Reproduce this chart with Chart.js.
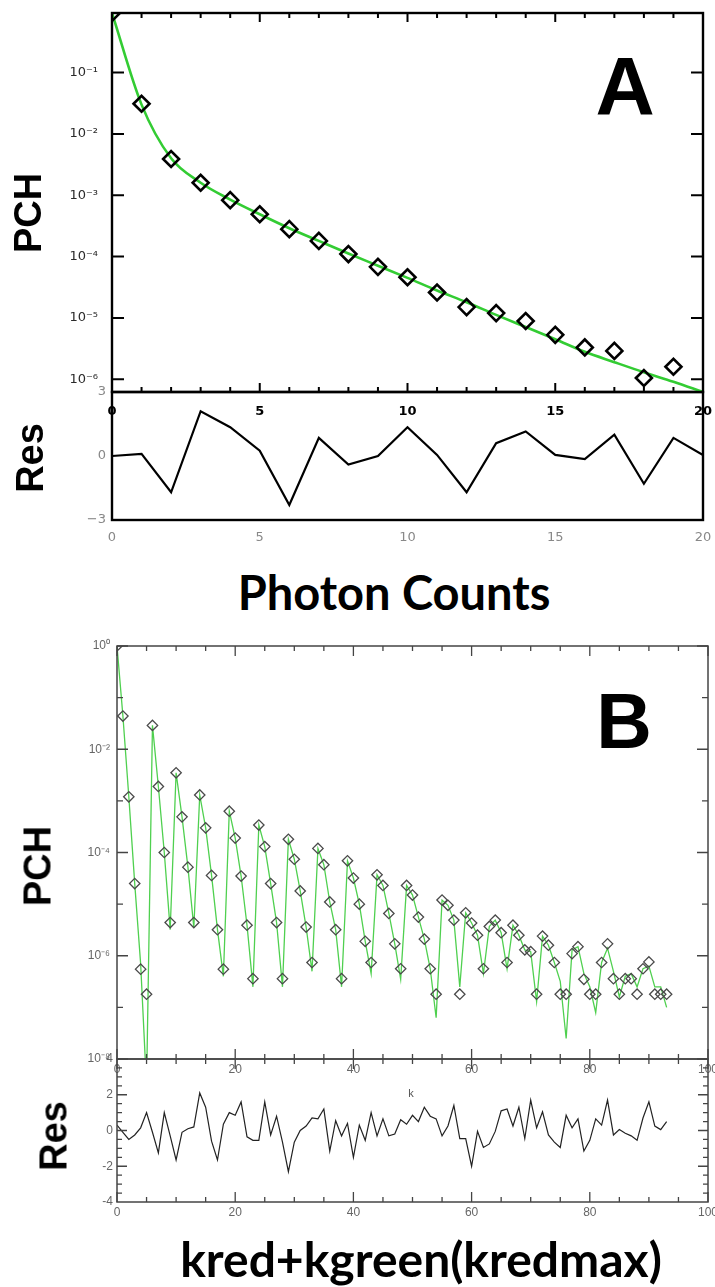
<!DOCTYPE html>
<html><head><meta charset="utf-8">
<script src="https://cdn.jsdelivr.net/npm/chart.js@4.4.1/dist/chart.umd.min.js"></script>
<style>
html,body{margin:0;padding:0;background:#fff;}
body{width:715px;height:1287px;position:relative;overflow:hidden;}
canvas{position:absolute;left:0;}
.lbl{position:absolute;white-space:nowrap;color:#000;line-height:1;}
</style></head><body>
<canvas id="cB" width="715" height="460" style="top:630px"></canvas>
<canvas id="cBr" width="715" height="185" style="top:1045px"></canvas>
<canvas id="cAr" width="715" height="180" style="top:380px"></canvas>
<canvas id="cA" width="715" height="430" style="top:0px"></canvas>

<div class="lbl" id="tPCHA" style="left:28px;top:213px;font:bold 38px 'Liberation Sans';transform:translate(-50%,-50%) rotate(-90deg)">PCH</div>
<div class="lbl" id="tResA" style="left:30px;top:458px;font:bold 38px 'Liberation Sans';transform:translate(-50%,-50%) rotate(-90deg)">Res</div>
<div class="lbl" id="tA" style="left:625px;top:86px;font:bold 82px 'Liberation Sans';transform:translate(-50%,-50%)">A</div>
<div class="lbl" id="tXA" style="left:394px;top:592px;font:bold 38px 'Lato';transform:translate(-50%,-50%)">Photon Counts</div>
<div class="lbl" id="tPCHB" style="left:38px;top:866px;font:bold 38px 'Liberation Sans';transform:translate(-50%,-50%) rotate(-90deg)">PCH</div>
<div class="lbl" id="tResB" style="left:54px;top:1136px;font:bold 38px 'Liberation Sans';transform:translate(-50%,-50%) rotate(-90deg)">Res</div>
<div class="lbl" id="tB" style="left:624px;top:721px;font:bold 77px 'Liberation Sans';transform:translate(-50%,-50%)">B</div>
<div class="lbl" id="tk" style="left:411px;top:1093px;font:11px 'Liberation Sans';color:#555;transform:translate(-50%,-50%)">k</div>
<div class="lbl" id="tXB" style="left:421px;top:1258px;font:bold 46px 'Lato';transform:translate(-50%,-50%)">kred+kgreen(kredmax)</div>

<script>
// ---------- Panel A data ----------
const countsA = [0,1,2,3,4,5,6,7,8,9,10,11,12,13,14,15,16,17,18,19,20];
const pchA = [0.935,0.031,0.0039,0.0016,8.3e-4,4.9e-4,2.8e-4,1.8e-4,1.1e-4,6.8e-5,4.6e-5,2.6e-5,1.5e-5,1.2e-5,8.9e-6,5.3e-6,3.3e-6,2.9e-6,1.05e-6,1.6e-6];
const fitA = [0.935,0.030,0.0040,0.0016,8.5e-4,4.9e-4,2.9e-4,1.8e-4,1.12e-4,7.1e-5,4.5e-5,2.8e-5,1.8e-5,1.12e-5,7.1e-6,4.5e-6,2.8e-6,1.9e-6,1.3e-6,9.1e-7,6.2e-7];
const resA = [0,0.1,-1.7,2.1,1.35,0.25,-2.3,0.85,-0.4,0,1.35,0.05,-1.7,0.6,1.15,0.05,-0.15,1.0,-1.3,0.85,0.05];
const yTicksA = [1e-1,1e-2,1e-3,1e-4,1e-5,1e-6];
const yLabelsA = ['10⁻¹','10⁻²','10⁻³','10⁻⁴','10⁻⁵','10⁻⁶'];
const xTicksA = [0,5,10,15,20];
const xMinorA = [1,2,3,4,6,7,8,9,11,12,13,14,16,17,18,19];
const resTicksA = [3,0,-3];
const resLabelsA = ['3','0','−3'];

// ---------- Panel B data ----------
const kB = Array.from({length:94},(_,i)=>i);
const pchB = [1,0.044,1.2e-3,2.5e-5,5.5e-7,1.8e-7,0.029,1.9e-3,1.0e-4,4.4e-6,
 3.5e-3,4.9e-4,5.2e-5,4.4e-6,1.3e-3,3.0e-4,3.6e-5,3.2e-6,5.5e-7,6.3e-4,
 1.9e-4,3.5e-5,3.9e-6,3.6e-7,3.4e-4,1.3e-4,2.5e-5,4.4e-6,3.6e-7,1.8e-4,
 7.4e-5,1.8e-5,3.6e-6,7.4e-7,1.2e-4,5.8e-5,1.1e-5,3.2e-6,3.6e-7,6.9e-5,
 3.2e-5,1.0e-5,1.9e-6,7.4e-7,3.7e-5,2.3e-5,6.6e-6,1.7e-6,5.6e-7,2.3e-5,
 1.5e-5,5.6e-6,2.1e-6,5.6e-7,1.8e-7,1.2e-5,9.5e-6,4.9e-6,1.8e-7,6.8e-6,
 4.3e-6,2.5e-6,5.6e-7,3.7e-6,4.9e-6,2.8e-6,7.4e-7,3.9e-6,2.5e-6,1.3e-6,
 1.2e-6,1.8e-7,2.4e-6,1.6e-6,7.4e-7,1.8e-7,1.8e-7,1.1e-6,1.5e-6,3.5e-7,
 1.8e-7,1.8e-7,7.4e-7,1.7e-6,3.6e-7,1.8e-7,3.6e-7,3.6e-7,1.8e-7,5.6e-7,
 7.6e-7,1.8e-7,1.8e-7,1.8e-7];
const fitB = [1,0.044,1.2e-3,2.5e-5,7e-7,3e-9,0.029,1.9e-3,1.0e-4,3.2e-6,
 3.5e-3,4.9e-4,5.2e-5,3.5e-6,1.3e-3,3.0e-4,3.6e-5,3.2e-6,4.0e-7,6.3e-4,
 1.9e-4,3.5e-5,3.9e-6,2.5e-7,3.4e-4,1.3e-4,2.5e-5,4.4e-6,2.5e-7,1.8e-4,
 7.4e-5,1.8e-5,3.6e-6,5.0e-7,1.2e-4,5.8e-5,1.1e-5,3.2e-6,2.5e-7,6.9e-5,
 3.2e-5,1.0e-5,1.9e-6,4.5e-7,3.7e-5,2.3e-5,6.6e-6,1.7e-6,3.5e-7,2.3e-5,
 1.5e-5,5.6e-6,2.1e-6,5.6e-7,6.3e-8,1.2e-5,9.5e-6,4.9e-6,2.5e-7,6.8e-6,
 4.3e-6,2.5e-6,4.5e-7,3.7e-6,4.9e-6,2.8e-6,5.6e-7,3.9e-6,2.5e-6,1.3e-6,
 1.2e-6,1.3e-7,2.4e-6,1.6e-6,7.4e-7,3.2e-7,2.5e-8,1.3e-6,1.5e-6,4.5e-7,
 2.5e-7,7.9e-8,7.4e-7,1.4e-6,5.0e-7,1.6e-7,4.0e-7,4.5e-7,2.5e-7,5.6e-7,
 6.3e-7,2.5e-7,2.5e-7,1.0e-7];
const resB = [0.3,-0.1,-0.5,-0.25,0.15,1.0,-0.1,-1.25,1.0,-0.3,
 -1.65,-0.1,0.1,0.2,2.1,1.3,-0.6,-1.65,0.35,1.0,
 0.85,1.6,-0.35,-0.55,-0.55,1.6,-0.25,0.8,-0.65,-2.3,
 -0.65,0,0.25,0.7,0.65,1.2,-1.15,0.55,-0.3,0.4,
 -1.5,0.3,-0.55,1.0,-0.3,0.65,-0.3,-0.2,0.6,0.35,
 0.85,0.5,1.3,0.8,0.65,-0.3,0.25,1.4,-0.45,-0.45,
 -2.0,-0.05,-0.95,-0.75,-0.05,1.1,1.2,0.25,1.3,-0.45,
 1.7,0.15,1.05,-0.25,-0.65,-0.95,0.85,0.15,0.65,-1.15,
 -0.55,0.65,0.3,1.7,-0.25,0.05,-0.15,-0.3,-0.55,0.7,
 1.6,0.25,0.05,0.5];
const yTicksB = [1,1e-2,1e-4,1e-6,1e-8];
const yLabelsB = ['10⁰','10⁻²','10⁻⁴','10⁻⁶','10⁻⁸'];
const yMinorB = [1e-1,1e-3,1e-5,1e-7];
const xTicksB = [0,20,40,60,80,100];
const xMinorB = [5,10,15,25,30,35,45,50,55,65,70,75,85,90,95];
const resTicksB = [4,2,0,-2,-4];
const resLabelsB = ['4','2','0','-2','-4'];
const resMinorB = [-3.5,-3,-2.5,-1.5,-1,-0.5,0.5,1,1.5,2.5,3,3.5];

// ---------- helpers ----------
const frameTicks = {
  id:'frameTicks',
  afterDatasetsDraw(chart, args, o){
    if(!o || !o.on) return;
    const ctx = chart.ctx, a = chart.chartArea, sx = chart.scales.x, sy = chart.scales.y;
    ctx.save();
    ctx.strokeStyle = o.color; ctx.lineWidth = o.tickWidth; ctx.lineCap='butt';
    ctx.beginPath();
    const seg=(x1,y1,x2,y2)=>{ctx.moveTo(x1,y1);ctx.lineTo(x2,y2);};
    (o.xTicks||[]).forEach(([vals,len,sides])=>vals.forEach(v=>{
      const p = sx.getPixelForValue(v);
      if(sides.includes('b')) seg(p,a.bottom,p,a.bottom-len);
      if(sides.includes('t')) seg(p,a.top,p,a.top+len);
    }));
    (o.yTicks||[]).forEach(([vals,len,sides])=>vals.forEach(v=>{
      const p = sy.getPixelForValue(v);
      if(sides.includes('l')) seg(a.left,p,a.left+len,p);
      if(sides.includes('r')) seg(a.right,p,a.right-len,p);
    }));
    ctx.stroke();
    ctx.lineWidth = o.frameWidth;
    ctx.strokeRect(a.left,a.top,a.right-a.left,a.bottom-a.top);
    ctx.restore();
  }
};
Chart.register(frameTicks);

function xScale(min,max,ticks,labels,h,pad,font,color){
  return {type:'linear',min,max,
    afterFit(s){s.height=h;s.paddingLeft=0;s.paddingRight=0;},
    afterBuildTicks(s){s.ticks=ticks.map(v=>({value:v}));},
    ticks:{autoSkip:false,maxRotation:0,minRotation:0,padding:pad,font,color,callback:(v,i)=>labels[i]},
    grid:{display:false,drawTicks:false},border:{display:false}};
}
function yScale(type,min,max,ticks,labels,w,pad,font,color){
  return {type,min,max,
    afterFit(s){s.width=w;s.paddingTop=0;s.paddingBottom=0;},
    afterBuildTicks(s){s.ticks=ticks.map(v=>({value:v}));},
    ticks:{autoSkip:false,padding:pad,font,color,callback:(v,i)=>labels[i]},
    grid:{display:false,drawTicks:false},border:{display:false}};
}
function base(padding, scales, frame){
  return {responsive:false,animation:false,devicePixelRatio:1,
    layout:{padding},scales,
    plugins:{legend:{display:false},tooltip:{enabled:false},frameTicks:frame}};
}
const pts=(xs,ys)=>ys.map((y,i)=>({x:xs[i],y}));

// ---------- Panel A main ----------
new Chart(document.getElementById('cA'),{
  type:'line',
  data:{datasets:[
    {data:pts(countsA,pchA),showLine:false,pointStyle:'rectRot',pointRadius:8,pointBorderWidth:2.6,pointBorderColor:'#000',pointBackgroundColor:'rgba(0,0,0,0)'},
    {data:pts(countsA,fitA),borderColor:'#33cc33',borderWidth:2.6,pointRadius:0,cubicInterpolationMode:'monotone',fill:false}
  ]},
  options:base({left:0,right:12,top:13,bottom:0},{
    x:xScale(0,20,xTicksA,xTicksA.map(String),38,12,{family:'DejaVu Sans',size:13,weight:'bold'},'#000'),
    y:yScale('logarithmic',6.2e-7,0.935,yTicksA,yLabelsA,112,14,{family:'DejaVu Sans',size:13},'#2a2a2a')
  },{on:true,color:'#000',tickWidth:2,frameWidth:2.4,
     xTicks:[[xMinorA,5,'tb'],[xTicksA,9,'tb']],
     yTicks:[[yTicksA,12,'lr']]})
});

// ---------- Panel A residual ----------
new Chart(document.getElementById('cAr'),{
  type:'line',
  data:{datasets:[
    {data:pts(countsA,resA),borderColor:'#000',borderWidth:2.2,pointRadius:0,tension:0,fill:false}
  ]},
  options:base({left:0,right:12,top:12,bottom:0},{
    x:xScale(0,20,xTicksA,xTicksA.map(String),40,10,{family:'DejaVu Sans',size:13},'#888'),
    y:yScale('linear',-3,3,resTicksA,resLabelsA,112,6,{family:'DejaVu Sans',size:13},'#888')
  },{on:true,color:'#000',tickWidth:2,frameWidth:2.4,xTicks:[],yTicks:[]})
});

// ---------- Panel B main ----------
new Chart(document.getElementById('cB'),{
  type:'line',
  data:{datasets:[
    {data:pts(kB,pchB),showLine:false,pointStyle:'rectRot',pointRadius:5.2,pointBorderWidth:1.3,pointBorderColor:'#4a4a4a',pointBackgroundColor:'rgba(0,0,0,0)'},
    {data:pts(kB,fitB),borderColor:'#4fd04f',borderWidth:1.3,pointRadius:0,tension:0,fill:false}
  ]},
  options:base({left:0,right:7,top:16,bottom:0},{
    x:xScale(0,100,xTicksB,xTicksB.map(String),31,3,{family:'Liberation Sans',size:12},'#666'),
    y:yScale('logarithmic',1e-8,1,yTicksB,yLabelsB,117,7,{family:'Liberation Sans',size:12},'#666')
  },{on:true,color:'#444',tickWidth:1.3,frameWidth:1.5,
     xTicks:[[xMinorB,5,'tb'],[xTicksB,10,'tb']],
     yTicks:[[yMinorB,6,'lr'],[yTicksB,11,'lr']]})
});

// ---------- Panel B residual ----------
new Chart(document.getElementById('cBr'),{
  type:'line',
  data:{datasets:[
    {data:pts(kB,resB),borderColor:'#222',borderWidth:1.2,pointRadius:0,tension:0,fill:false}
  ]},
  options:base({left:0,right:7,top:14,bottom:0},{
    x:xScale(0,100,xTicksB,xTicksB.map(String),28,3,{family:'Liberation Sans',size:12},'#666'),
    y:yScale('linear',-4,4,resTicksB,resLabelsB,117,4,{family:'Liberation Sans',size:12},'#666')
  },{on:true,color:'#444',tickWidth:1.3,frameWidth:1.5,
     xTicks:[[xMinorB,5,'tb'],[xTicksB,10,'tb']],
     yTicks:[[resMinorB,5,'lr'],[[-2,0,2],10,'lr']]})
});

// fit axis titles to the reference widths
function fitW(id,target){const el=document.getElementById(id);const fs=parseFloat(getComputedStyle(el).fontSize);el.style.fontSize=(fs*target/el.offsetWidth)+'px';}
fitW('tXA',313);
fitW('tXB',482);
</script>
</body></html>
